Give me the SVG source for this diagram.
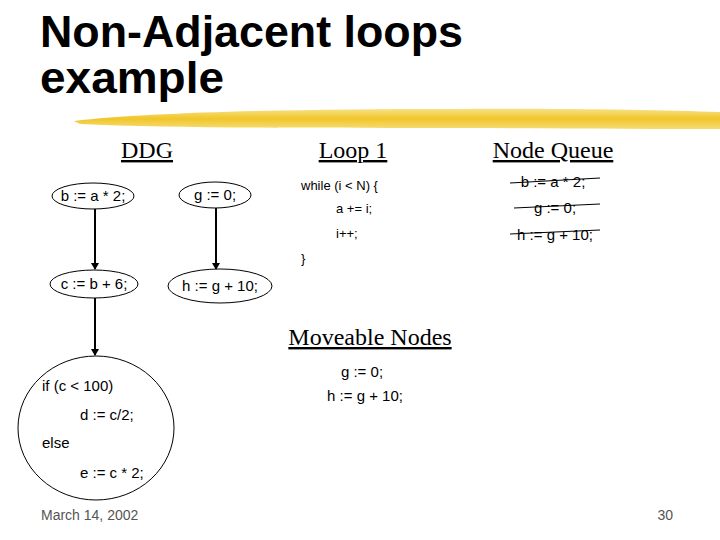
<svg xmlns="http://www.w3.org/2000/svg" width="720" height="540" viewBox="0 0 720 540">
<style>
.title{font-family:"Liberation Sans",Arial,sans-serif;font-weight:bold;font-size:45px;fill:#000}
.hdr{font-family:"Liberation Serif","Times New Roman",serif;font-size:24px;fill:#000;text-decoration:underline}
.code{font-family:"Liberation Sans",Arial,sans-serif;font-size:15px;fill:#000}
.small{font-family:"Liberation Sans",Arial,sans-serif;font-size:13px;fill:#000}
.foot{font-family:"Liberation Sans",Arial,sans-serif;font-size:14px;fill:#555}
.node{fill:#fff;stroke:#000;stroke-width:1}
.edge{stroke:#000;stroke-width:2;fill:none}
.strike{stroke:#000;stroke-width:1.2}
</style>
<defs>
<marker id="arr" markerWidth="8" markerHeight="8" refX="6" refY="4" orient="auto" markerUnits="userSpaceOnUse">
<path d="M0,0 L7,4 L0,8 Z" fill="#000"/>
</marker>
<linearGradient id="brush" x1="0" y1="0" x2="0" y2="1">
<stop offset="0" stop-color="#f7de78"/>
<stop offset="0.5" stop-color="#efbf12"/>
<stop offset="1" stop-color="#f5d868"/>
</linearGradient>
</defs>
<rect width="720" height="540" fill="#fff"/>
<text class="title" x="40" y="47" textLength="423" lengthAdjust="spacingAndGlyphs">Non-Adjacent loops</text>
<text class="title" x="40" y="93" textLength="184" lengthAdjust="spacingAndGlyphs">example</text>
<path d="M74,121 C150,112 300,109 450,109 C560,108 660,110 720,112 L720,129 C640,129 540,128 430,128 C300,128 170,128 80,124 Z" fill="url(#brush)" opacity="0.9"/>
<text class="hdr" x="147" y="158" text-anchor="middle">DDG</text>
<text class="hdr" x="353" y="158" text-anchor="middle">Loop 1</text>
<text class="hdr" x="553" y="158" text-anchor="middle">Node Queue</text>
<text class="hdr" x="370" y="345" text-anchor="middle">Moveable Nodes</text>
<g id="connectors">
<line class="edge" x1="95" y1="209" x2="95" y2="269" marker-end="url(#arr)"/>
<line class="edge" x1="216" y1="208" x2="216" y2="269" marker-end="url(#arr)"/>
<line class="edge" x1="95" y1="298" x2="95" y2="355" marker-end="url(#arr)"/>
</g>
<g id="n_b"><ellipse class="node" cx="93" cy="196" rx="41" ry="13"/><text class="code" x="93" y="201" text-anchor="middle">b := a * 2;</text></g>
<g id="n_g"><ellipse class="node" cx="215" cy="195" rx="36" ry="13"/><text class="code" x="215" y="200" text-anchor="middle">g := 0;</text></g>
<g id="n_c"><ellipse class="node" cx="94" cy="284" rx="44" ry="14"/><text class="code" x="94" y="289" text-anchor="middle">c := b + 6;</text></g>
<g id="n_h"><ellipse class="node" cx="220" cy="286" rx="52" ry="17"/><text class="code" x="220" y="291" text-anchor="middle">h := g + 10;</text></g>
<g id="n_if"><ellipse class="node" cx="96" cy="428" rx="78" ry="72"/>
<text class="code" x="42" y="391">if (c &lt; 100)</text>
<text class="code" x="80" y="420">d := c/2;</text>
<text class="code" x="42" y="448">else</text>
<text class="code" x="80" y="478">e := c * 2;</text>
</g>
<g id="loop1">
<text class="small" x="301" y="190">while (i &lt; N) {</text>
<text class="small" x="336" y="213">a += i;</text>
<text class="small" x="336" y="238">i++;</text>
<text class="small" x="301" y="263">}</text>
</g>
<g id="queue">
<text class="code" x="553" y="187" text-anchor="middle">b := a * 2;</text>
<line class="strike" x1="510" y1="183" x2="600" y2="178"/>
<text class="code" x="555" y="213" text-anchor="middle">g := 0;</text>
<line class="strike" x1="514" y1="208" x2="600" y2="204"/>
<text class="code" x="555" y="240" text-anchor="middle">h := g + 10;</text>
<line class="strike" x1="510" y1="234" x2="600" y2="230"/>
</g>
<g id="moveable">
<text class="code" x="362" y="377" text-anchor="middle">g := 0;</text>
<text class="code" x="365" y="401" text-anchor="middle">h := g + 10;</text>
</g>
<text class="foot" x="41" y="520">March 14, 2002</text>
<text class="foot" x="673" y="520" text-anchor="end">30</text>
</svg>
